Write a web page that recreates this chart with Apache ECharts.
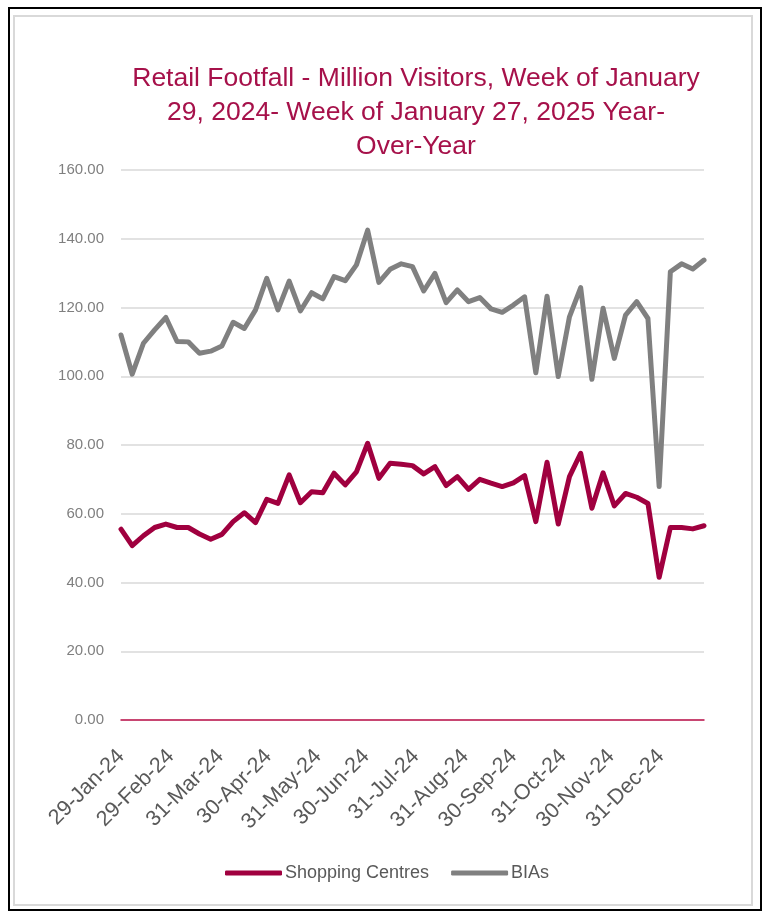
<!DOCTYPE html>
<html>
<head>
<meta charset="utf-8">
<script src="https://cdn.jsdelivr.net/npm/echarts@6/dist/echarts.min.js"></script>
<style>
html,body{margin:0;padding:0;background:#fff;}
#outer{position:absolute;left:8px;top:7px;width:754px;height:904px;border:2px solid #000;box-sizing:border-box;}
#inner{position:absolute;left:13px;top:15px;width:740px;height:891px;border:2px solid #d9d9d9;box-sizing:border-box;}
#chart{position:absolute;left:0;top:0;width:765px;height:915px;}
</style>
</head>
<body>
<div id="outer"></div>
<div id="inner"></div>
<div id="chart"></div>
<script>
const weekDates = ["2024-01-29","2024-02-05","2024-02-12","2024-02-19","2024-02-26","2024-03-04","2024-03-11","2024-03-18","2024-03-25","2024-04-01","2024-04-08","2024-04-15","2024-04-22","2024-04-29","2024-05-06","2024-05-13","2024-05-20","2024-05-27","2024-06-03","2024-06-10","2024-06-17","2024-06-24","2024-07-01","2024-07-08","2024-07-15","2024-07-22","2024-07-29","2024-08-05","2024-08-12","2024-08-19","2024-08-26","2024-09-02","2024-09-09","2024-09-16","2024-09-23","2024-09-30","2024-10-07","2024-10-14","2024-10-21","2024-10-28","2024-11-04","2024-11-11","2024-11-18","2024-11-25","2024-12-02","2024-12-09","2024-12-16","2024-12-23","2024-12-30","2025-01-06","2025-01-13","2025-01-20","2025-01-27"];
const shoppingCentres = [55.5,50.7,53.6,56.0,57.0,56.0,56.0,54.1,52.6,54.0,57.7,60.3,57.4,64.2,63.0,71.3,63.2,66.4,66.1,71.8,68.4,72.2,80.5,70.3,74.7,74.4,74.0,71.6,73.7,68.2,70.8,67.1,70.0,68.9,67.9,69.0,71.1,57.7,75.0,57.0,70.8,77.6,61.6,71.9,62.3,65.9,64.8,63.0,41.5,56.0,56.0,55.6,56.5];
const bias = [112.0,100.6,109.6,113.5,117.1,110.1,110.0,106.7,107.3,108.8,115.7,113.9,119.3,128.5,119.3,127.7,119.0,124.3,122.5,129.0,127.8,132.4,142.5,127.3,131.1,132.7,131.9,124.8,129.9,121.4,125.1,121.7,122.9,119.6,118.6,120.7,123.1,101.0,123.3,99.9,117.3,125.8,99.1,119.8,105.2,117.8,121.7,116.8,67.9,130.4,132.7,131.2,133.8];
const tickDates = ["2024-01-29","2024-02-29","2024-03-31","2024-04-30","2024-05-31","2024-06-30","2024-07-31","2024-08-31","2024-09-30","2024-10-31","2024-11-30","2024-12-31"];
const yTicks = [0,20,40,60,80,100,120,140,160];

const months = ["Jan","Feb","Mar","Apr","May","Jun","Jul","Aug","Sep","Oct","Nov","Dec"];
const DAY = 86400000;
function utc(s){const p=s.split('-');return Date.UTC(+p[0],+p[1]-1,+p[2]);}
const base = utc(weekDates[0]);
function dayOf(s){return Math.round((utc(s)-base)/DAY);}
function fmt(v){const d=new Date(base+Math.round(v)*DAY);return d.getUTCDate()+'-'+months[d.getUTCMonth()]+'-'+String(d.getUTCFullYear()).slice(2);}

const chart = echarts.init(document.getElementById('chart'));
const FONT = '"Liberation Sans", Arial, sans-serif';
chart.setOption({
  animation:false,
  backgroundColor:'transparent',
  title:{
    text:'Retail Footfall - Million Visitors, Week of January\n29, 2024- Week of January 27, 2025 Year-\nOver-Year',
    left:411, top:57, textAlign:'center',
    textStyle:{color:'#A6114A',fontSize:26.5,fontWeight:'normal',fontFamily:FONT,lineHeight:34}
  },
  grid:{left:121,right:61,top:170,bottom:195,containLabel:false},
  legend:{
    bottom:28,left:220,
    icon:'roundRect',
    itemWidth:57,itemHeight:5,itemGap:22,
    textStyle:{color:'#595959',fontSize:18,fontFamily:FONT,padding:[0,0,0,-2]},
    data:['Shopping Centres','BIAs']
  },
  xAxis:{
    type:'value',
    min:0, max:dayOf(weekDates[weekDates.length-1]),
    axisLine:{show:true,onZero:true,lineStyle:{color:'#C0134E',width:1.5}},
    axisTick:{show:false},
    splitLine:{show:false},
    axisLabel:{
      customValues:tickDates.map(dayOf),
      rotate:45, color:'#595959', fontSize:21.5, fontFamily:FONT, margin:33,
      formatter:function(v){return fmt(v);}
    }
  },
  yAxis:{
    type:'value', min:yTicks[0], max:yTicks[yTicks.length-1], interval:20,
    axisLine:{show:false}, axisTick:{show:false},
    splitLine:{lineStyle:{color:'#D9D9D9',width:1.5}},
    axisLabel:{color:'#7F7F7F',fontSize:15,fontFamily:FONT,margin:17,
      formatter:function(v){return v.toFixed(2);}}
  },
  series:[
    {name:'Shopping Centres',type:'line',symbol:'none',
     data:weekDates.map((d,i)=>[dayOf(d),shoppingCentres[i]]),
     lineStyle:{color:'#A0003F',width:5,join:'round',cap:'round'},itemStyle:{color:'#A0003F'}},
    {name:'BIAs',type:'line',symbol:'none',
     data:weekDates.map((d,i)=>[dayOf(d),bias[i]]),
     lineStyle:{color:'#808080',width:5,join:'round',cap:'round'},itemStyle:{color:'#808080'}}
  ]
});
</script>
</body>
</html>
